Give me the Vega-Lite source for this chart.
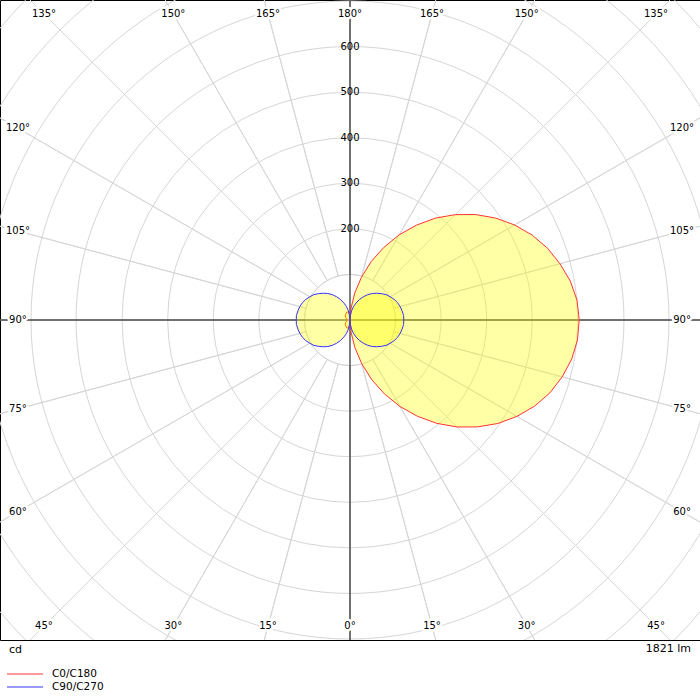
{
  "$schema": "https://vega.github.io/schema/vega-lite/v6.json",
  "width": 700,
  "height": 640,
  "autosize": {"type": "none"},
  "padding": {"left": 0, "top": 0, "right": 0, "bottom": 60},
  "background": "white",
  "config": {
    "font": "DejaVu Sans",
    "view": {"stroke": "black", "strokeWidth": 1},
    "axis": {"labels": false, "ticks": false, "domain": false, "grid": false}
  },
  "datasets": {
    "rings": [{"r": 100}, {"r": 200}, {"r": 300}, {"r": 400}, {"r": 500}, {"r": 600}, {"r": 700}, {"r": 800}, {"r": 900}, {"r": 1000}],
    "spokes": [{"v": 1}, {"v": 1}, {"v": 1}, {"v": 1}, {"v": 1}, {"v": 1}, {"v": 1}, {"v": 1}, {"v": 1}, {"v": 1}, {"v": 1}, {"v": 1}, {"v": 1}, {"v": 1}, {"v": 1}, {"v": 1}, {"v": 1}, {"v": 1}, {"v": 1}, {"v": 1}, {"v": 1}, {"v": 1}, {"v": 1}, {"v": 1}],
    "curves": [
      {"s": "C0/C180", "a": 0, "I": 0}, {"s": "C0/C180", "a": 5, "I": 27}, {"s": "C0/C180", "a": 10, "I": 61}, {"s": "C0/C180", "a": 15, "I": 99},
      {"s": "C0/C180", "a": 20, "I": 139}, {"s": "C0/C180", "a": 25, "I": 179}, {"s": "C0/C180", "a": 30, "I": 219}, {"s": "C0/C180", "a": 35, "I": 258},
      {"s": "C0/C180", "a": 40, "I": 296}, {"s": "C0/C180", "a": 45, "I": 332}, {"s": "C0/C180", "a": 50, "I": 365}, {"s": "C0/C180", "a": 55, "I": 396},
      {"s": "C0/C180", "a": 60, "I": 423}, {"s": "C0/C180", "a": 65, "I": 447}, {"s": "C0/C180", "a": 70, "I": 467}, {"s": "C0/C180", "a": 75, "I": 482},
      {"s": "C0/C180", "a": 80, "I": 494}, {"s": "C0/C180", "a": 85, "I": 501}, {"s": "C0/C180", "a": 90, "I": 503}, {"s": "C0/C180", "a": 95, "I": 500},
      {"s": "C0/C180", "a": 100, "I": 491}, {"s": "C0/C180", "a": 105, "I": 477}, {"s": "C0/C180", "a": 110, "I": 461}, {"s": "C0/C180", "a": 115, "I": 441},
      {"s": "C0/C180", "a": 120, "I": 417}, {"s": "C0/C180", "a": 125, "I": 390}, {"s": "C0/C180", "a": 130, "I": 360}, {"s": "C0/C180", "a": 135, "I": 327},
      {"s": "C0/C180", "a": 140, "I": 292}, {"s": "C0/C180", "a": 145, "I": 254}, {"s": "C0/C180", "a": 150, "I": 216}, {"s": "C0/C180", "a": 155, "I": 176},
      {"s": "C0/C180", "a": 160, "I": 137}, {"s": "C0/C180", "a": 165, "I": 97}, {"s": "C0/C180", "a": 170, "I": 60}, {"s": "C0/C180", "a": 175, "I": 26},
      {"s": "C0/C180", "a": 180, "I": 0}, {"s": "C0/C180", "a": 185, "I": 10}, {"s": "C0/C180", "a": 190, "I": 17}, {"s": "C0/C180", "a": 200, "I": 19},
      {"s": "C0/C180", "a": 210, "I": 17}, {"s": "C0/C180", "a": 225, "I": 15}, {"s": "C0/C180", "a": 240, "I": 11}, {"s": "C0/C180", "a": 255, "I": 7},
      {"s": "C0/C180", "a": 270, "I": 5}, {"s": "C0/C180", "a": 285, "I": 7}, {"s": "C0/C180", "a": 300, "I": 11}, {"s": "C0/C180", "a": 315, "I": 15},
      {"s": "C0/C180", "a": 330, "I": 17}, {"s": "C0/C180", "a": 340, "I": 19}, {"s": "C0/C180", "a": 350, "I": 17}, {"s": "C0/C180", "a": 355, "I": 10},
      {"s": "C90/C270", "a": 0, "I": 0}, {"s": "C90/C270", "a": 5, "I": 10}, {"s": "C90/C270", "a": 10, "I": 21}, {"s": "C90/C270", "a": 15, "I": 31},
      {"s": "C90/C270", "a": 20, "I": 40}, {"s": "C90/C270", "a": 25, "I": 50}, {"s": "C90/C270", "a": 30, "I": 59}, {"s": "C90/C270", "a": 35, "I": 68},
      {"s": "C90/C270", "a": 40, "I": 76}, {"s": "C90/C270", "a": 45, "I": 83}, {"s": "C90/C270", "a": 50, "I": 90}, {"s": "C90/C270", "a": 55, "I": 97},
      {"s": "C90/C270", "a": 60, "I": 102}, {"s": "C90/C270", "a": 65, "I": 107}, {"s": "C90/C270", "a": 70, "I": 111}, {"s": "C90/C270", "a": 75, "I": 114},
      {"s": "C90/C270", "a": 80, "I": 116}, {"s": "C90/C270", "a": 85, "I": 118}, {"s": "C90/C270", "a": 90, "I": 118}, {"s": "C90/C270", "a": 95, "I": 118},
      {"s": "C90/C270", "a": 100, "I": 116}, {"s": "C90/C270", "a": 105, "I": 114}, {"s": "C90/C270", "a": 110, "I": 111}, {"s": "C90/C270", "a": 115, "I": 107},
      {"s": "C90/C270", "a": 120, "I": 102}, {"s": "C90/C270", "a": 125, "I": 97}, {"s": "C90/C270", "a": 130, "I": 90}, {"s": "C90/C270", "a": 135, "I": 83},
      {"s": "C90/C270", "a": 140, "I": 76}, {"s": "C90/C270", "a": 145, "I": 68}, {"s": "C90/C270", "a": 150, "I": 59}, {"s": "C90/C270", "a": 155, "I": 50},
      {"s": "C90/C270", "a": 160, "I": 40}, {"s": "C90/C270", "a": 165, "I": 31}, {"s": "C90/C270", "a": 170, "I": 21}, {"s": "C90/C270", "a": 175, "I": 10},
      {"s": "C90/C270", "a": 180, "I": 0}, {"s": "C90/C270", "a": 185, "I": 10}, {"s": "C90/C270", "a": 190, "I": 21}, {"s": "C90/C270", "a": 195, "I": 31},
      {"s": "C90/C270", "a": 200, "I": 40}, {"s": "C90/C270", "a": 205, "I": 50}, {"s": "C90/C270", "a": 210, "I": 59}, {"s": "C90/C270", "a": 215, "I": 68},
      {"s": "C90/C270", "a": 220, "I": 76}, {"s": "C90/C270", "a": 225, "I": 83}, {"s": "C90/C270", "a": 230, "I": 90}, {"s": "C90/C270", "a": 235, "I": 97},
      {"s": "C90/C270", "a": 240, "I": 102}, {"s": "C90/C270", "a": 245, "I": 107}, {"s": "C90/C270", "a": 250, "I": 111}, {"s": "C90/C270", "a": 255, "I": 114},
      {"s": "C90/C270", "a": 260, "I": 116}, {"s": "C90/C270", "a": 265, "I": 118}, {"s": "C90/C270", "a": 270, "I": 118}, {"s": "C90/C270", "a": 275, "I": 118},
      {"s": "C90/C270", "a": 280, "I": 116}, {"s": "C90/C270", "a": 285, "I": 114}, {"s": "C90/C270", "a": 290, "I": 111}, {"s": "C90/C270", "a": 295, "I": 107},
      {"s": "C90/C270", "a": 300, "I": 102}, {"s": "C90/C270", "a": 305, "I": 97}, {"s": "C90/C270", "a": 310, "I": 90}, {"s": "C90/C270", "a": 315, "I": 83},
      {"s": "C90/C270", "a": 320, "I": 76}, {"s": "C90/C270", "a": 325, "I": 68}, {"s": "C90/C270", "a": 330, "I": 59}, {"s": "C90/C270", "a": 335, "I": 50},
      {"s": "C90/C270", "a": 340, "I": 40}, {"s": "C90/C270", "a": 345, "I": 31}, {"s": "C90/C270", "a": 350, "I": 21}, {"s": "C90/C270", "a": 355, "I": 10}
    ],
    "values": [{"t": "200", "r": 200}, {"t": "300", "r": 300}, {"t": "400", "r": 400}, {"t": "500", "r": 500}, {"t": "600", "r": 600}],
    "angles": [
      {"t": 0, "l": "0°"}, {"t": 15, "l": "15°"}, {"t": -15, "l": "15°"}, {"t": 30, "l": "30°"}, {"t": -30, "l": "30°"},
      {"t": 45, "l": "45°"}, {"t": -45, "l": "45°"}, {"t": 60, "l": "60°"}, {"t": -60, "l": "60°"}, {"t": 75, "l": "75°"}, {"t": -75, "l": "75°"},
      {"t": 90, "l": "90°"}, {"t": -90, "l": "90°"}, {"t": 105, "l": "105°"}, {"t": -105, "l": "105°"}, {"t": 120, "l": "120°"}, {"t": -120, "l": "120°"},
      {"t": 135, "l": "135°"}, {"t": -135, "l": "135°"}, {"t": 150, "l": "150°"}, {"t": -150, "l": "150°"}, {"t": 165, "l": "165°"}, {"t": -165, "l": "165°"},
      {"t": 180, "l": "180°"}
    ],
    "footer": [{"t": "cd", "x": -768, "y": -702.2, "side": "left"}, {"t": "1821 lm", "x": 768, "y": -702.2, "side": "right"}]
  },
  "layer": [
    {
      "data": {"name": "rings"},
      "mark": {"type": "arc", "filled": false, "stroke": "#d6d6d6", "strokeWidth": 1, "theta": 0, "theta2": 6.2832, "clip": true},
      "encoding": {
        "radius": {"field": "r", "type": "quantitative", "stack": null, "scale": {"type": "linear", "domain": [0, 768], "range": [0, 350], "zero": true}}
      }
    },
    {
      "data": {"name": "spokes"},
      "mark": {"type": "arc", "filled": false, "stroke": "#d6d6d6", "strokeWidth": 1, "clip": true},
      "encoding": {
        "theta": {"field": "v", "type": "quantitative", "stack": true},
        "radius": {"datum": 1500, "type": "quantitative", "scale": {"type": "linear", "domain": [0, 768], "range": [0, 350], "zero": true}},
        "radius2": {"datum": 100}
      }
    },
    {
      "data": {"values": [{}]},
      "mark": {"type": "rule", "color": "black", "strokeWidth": 1},
      "encoding": {"y": {"datum": 0, "type": "quantitative", "scale": {"domain": [-702.2, 702.2], "nice": false, "zero": false}, "axis": null}}
    },
    {
      "data": {"values": [{}]},
      "mark": {"type": "rule", "color": "black", "strokeWidth": 1},
      "encoding": {"x": {"datum": 0, "type": "quantitative", "scale": {"domain": [-768, 768], "nice": false, "zero": false}, "axis": null}}
    },
    {
      "data": {"name": "curves"},
      "transform": [
        {"calculate": "datum.I * sin(datum.a * PI / 180)", "as": "x"},
        {"calculate": "-datum.I * cos(datum.a * PI / 180)", "as": "y"}
      ],
      "mark": {"type": "line", "interpolate": "linear-closed", "fill": "#ffff00", "fillOpacity": 0.35, "strokeWidth": 1},
      "encoding": {
        "x": {"field": "x", "type": "quantitative", "scale": {"domain": [-768, 768], "nice": false, "zero": false}, "axis": null},
        "y": {"field": "y", "type": "quantitative", "scale": {"domain": [-702.2, 702.2], "nice": false, "zero": false}, "axis": null},
        "stroke": {"field": "s", "type": "nominal", "scale": {"domain": ["C0/C180", "C90/C270"], "range": ["#ff3333", "#3333ff"]},
          "legend": {"orient": "none", "legendX": 18.5, "legendY": 667.5, "title": null, "direction": "vertical", "symbolType": "M-3,0H3", "symbolSize": 144, "symbolStrokeWidth": 1, "labelFont": "DejaVu Sans", "labelFontSize": 10.5, "labelColor": "black", "labelOffset": 20.5, "rowPadding": 1, "padding": 0}},
        "order": {"field": "a", "type": "quantitative"}
      }
    },
    {
      "data": {"name": "values"},
      "mark": {"type": "text", "fontSize": 10, "align": "center", "baseline": "middle", "color": "black"},
      "encoding": {
        "x": {"datum": 0, "type": "quantitative", "axis": null},
        "y": {"field": "r", "type": "quantitative", "axis": null},
        "text": {"field": "t"}
      }
    },
    {
      "data": {"name": "angles"},
      "transform": [
        {"calculate": "sin(datum.t * PI / 180)", "as": "ux"},
        {"calculate": "-cos(datum.t * PI / 180)", "as": "uy"},
        {"calculate": "min(671.5 / max(abs(datum.uy), 1e-9), 728.6 / max(abs(datum.ux), 1e-9))", "as": "d"},
        {"calculate": "datum.d * datum.ux", "as": "x"},
        {"calculate": "datum.d * datum.uy", "as": "y"}
      ],
      "layer": [
        {
          "mark": {"type": "text", "fontSize": 10, "align": "center", "baseline": "middle", "color": "white", "stroke": "white", "strokeWidth": 5, "strokeJoin": "round"},
          "encoding": {
            "x": {"field": "x", "type": "quantitative", "axis": null},
            "y": {"field": "y", "type": "quantitative", "axis": null},
            "text": {"field": "l"}
          }
        },
        {
          "mark": {"type": "text", "fontSize": 10, "align": "center", "baseline": "middle", "color": "black"},
          "encoding": {
            "x": {"field": "x", "type": "quantitative", "axis": null},
            "y": {"field": "y", "type": "quantitative", "axis": null},
            "text": {"field": "l"}
          }
        }
      ]
    },
    {
      "data": {"name": "footer"},
      "transform": [{"filter": "datum.side == 'left'"}],
      "mark": {"type": "text", "fontSize": 11, "align": "left", "baseline": "middle", "color": "black", "dx": 9, "dy": 10},
      "encoding": {
        "x": {"field": "x", "type": "quantitative", "axis": null},
        "y": {"field": "y", "type": "quantitative", "axis": null},
        "text": {"field": "t"}
      }
    },
    {
      "data": {"name": "footer"},
      "transform": [{"filter": "datum.side == 'right'"}],
      "mark": {"type": "text", "fontSize": 11, "align": "right", "baseline": "middle", "color": "black", "dx": -9, "dy": 9},
      "encoding": {
        "x": {"field": "x", "type": "quantitative", "axis": null},
        "y": {"field": "y", "type": "quantitative", "axis": null},
        "text": {"field": "t"}
      }
    }
  ]
}
